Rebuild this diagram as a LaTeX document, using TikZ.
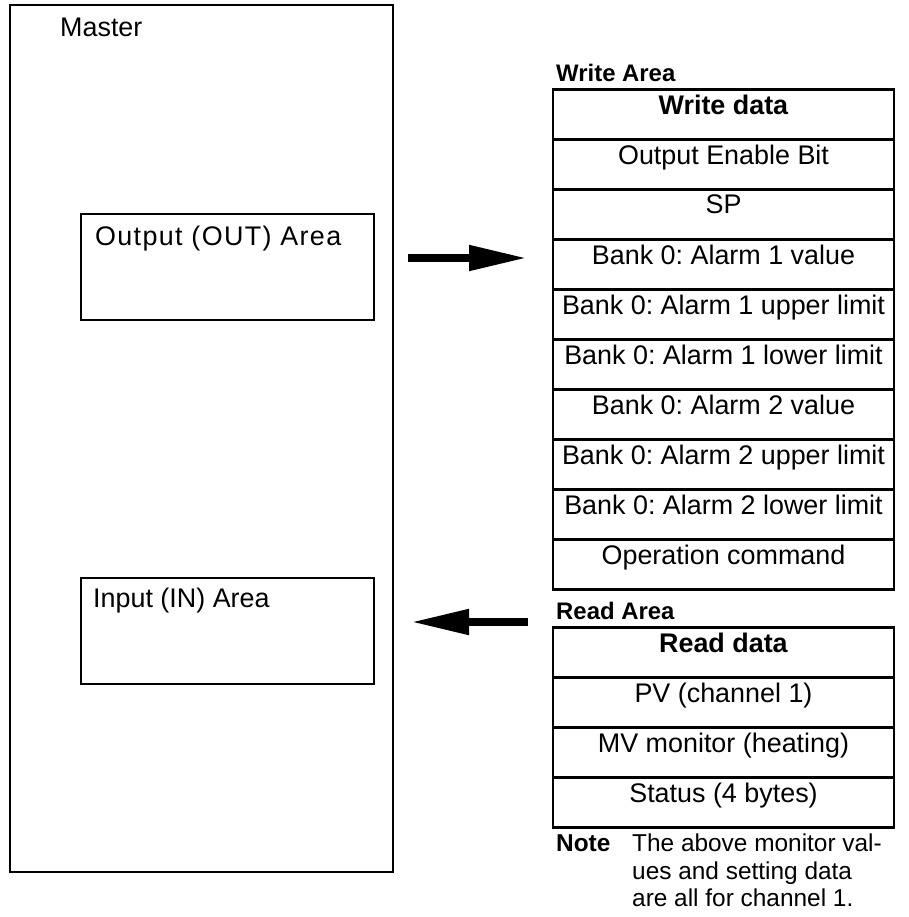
\documentclass[tikz,border=0pt]{standalone}
\usepackage{fontspec}
\setmainfont{Liberation Sans}
\frenchspacing
\usetikzlibrary{arrows.meta}
\tikzset{
  cell/.style={draw, line width=2.5bp, minimum width=341bp, minimum height=50bp, inner sep=0pt},
  celltext/.style={anchor=north, inner sep=0pt},
  area/.style={draw, line width=1.5bp, anchor=north west, minimum width=293bp, minimum height=106bp},
  bigarrow/.style={line width=8bp, -{Triangle[length=58bp,width=24bp]}}
}
\begin{document}
\begin{tikzpicture}[x=1bp,y=-1bp,font=\fontsize{27}{31}\selectfont]
\useasboundingbox (0,0) rectangle (909,917);

\draw[line width=2bp] (10,5) rectangle (393,872);
\node[anchor=north west, inner sep=0pt] (master) at (60,18) {Master};
\node[area] (outbox) at (80,213) {};
\node[anchor=north west, inner sep=0pt] (outtxt) at (95,226) {\addfontfeature{LetterSpace=5}Output (OUT) Area};
\node[area] (inbox) at (80,577) {};
\node[anchor=north west, inner sep=0pt] (intxt) at (93,588) {Input (IN) Area};

% write area
\node[anchor=south west, inner sep=0pt] (wlabel) at (556,82) {\fontsize{24}{28}\selectfont\textbf{Write Area}};
\foreach \t [count=\i from 0] in {\textbf{Write data},Output Enable Bit,SP,
  Bank 0: Alarm 1 value,Bank 0: Alarm 1 upper limit,Bank 0: Alarm 1 lower limit,
  Bank 0: Alarm 2 value,Bank 0: Alarm 2 upper limit,Bank 0: Alarm 2 lower limit,
  Operation command}{
  \node[cell, anchor=north] (w\i) at (723.5,88+50*\i) {};
  \node[celltext] at ([yshift=-7bp]w\i.north) {\t};
}

% read area
\node[anchor=south west, inner sep=0pt] (rlabel) at (556,620) {\fontsize{24}{28}\selectfont\textbf{Read Area}};
\foreach \t [count=\i from 0] in {\textbf{Read data},PV (channel 1),
  MV monitor (heating),Status (4 bytes)}{
  \node[cell, anchor=north] (r\i) at (723.5,626+50*\i) {};
  \node[celltext] at ([yshift=-7bp]r\i.north) {\t};
}

\node[anchor=north west, inner sep=0pt] (notekey) at (556,834) {\fontsize{24.5}{28}\selectfont\textbf{Note}};
\node[anchor=north west, inner sep=0pt, align=left, font=\fontsize{24.5}{27.5}\selectfont] (notetxt) at (632,834)
  {The above monitor val-\\ues and setting data\\are all for channel 1.};

\coordinate (oa) at (408,258);
\coordinate (ob) at (527,258);
\coordinate (ia) at (528,622);
\coordinate (ib) at (411,622);
\draw[bigarrow] (oa) -- (ob);
\draw[bigarrow] (ia) -- (ib);
\end{tikzpicture}
\end{document}
